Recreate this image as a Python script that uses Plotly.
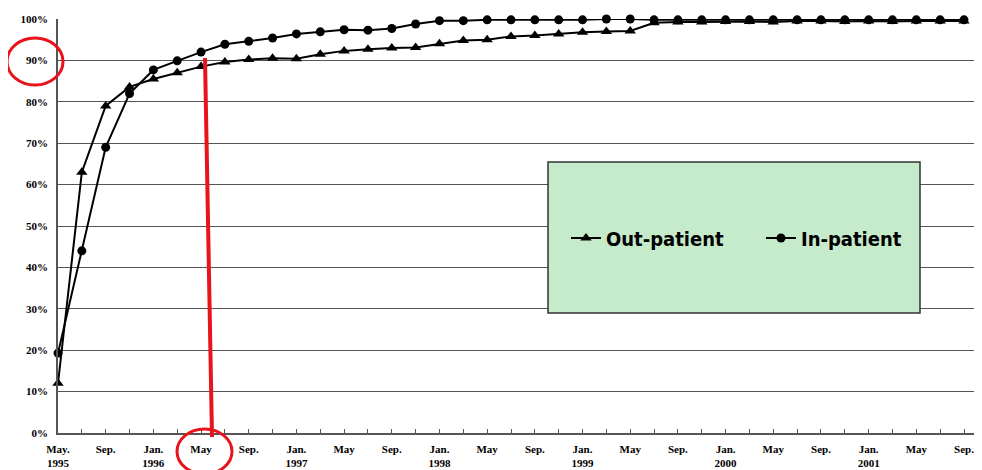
import plotly.graph_objects as go

# Two-month observation points from May 1995 to Sep 2001
n_points = 39

out_patient = [12, 63, 79, 83.6, 85.5, 87, 88.5, 89.6, 90.2, 90.5, 90.4, 91.5, 92.3,
               92.7, 93.0, 93.1, 94.0, 94.8, 95.0, 95.8, 96.0, 96.4, 96.8, 97.0, 97.1,
               99.1, 99.3, 99.3, 99.4, 99.4, 99.3, 99.5, 99.5, 99.4, 99.5, 99.4, 99.5,
               99.5, 99.5]
in_patient = [19.3, 44, 69, 82, 87.7, 89.9, 92, 93.9, 94.6, 95.4, 96.4, 96.9, 97.4,
              97.3, 97.7, 98.8, 99.6, 99.6, 99.8, 99.8, 99.8, 99.8, 99.8, 100, 100,
              99.8, 99.8, 99.8, 99.8, 99.8, 99.8, 99.8, 99.8, 99.8, 99.8, 99.8, 99.8,
              99.8, 99.8]

tick_labels = ["May.<br>1995", "Sep.", "Jan.<br>1996", "May", "Sep.", "Jan.<br>1997",
               "May", "Sep.", "Jan.<br>1998", "May", "Sep.", "Jan.<br>1999", "May",
               "Sep.", "Jan.<br>2000", "May", "Sep.", "Jan.<br>2001", "May", "Sep."]
y_ticks = [0, 10, 20, 30, 40, 50, 60, 70, 80, 90, 100]
y_tick_text = [f"{v}%" for v in y_ticks]

x = list(range(n_points))
tickvals = x
ticktext = [tick_labels[i // 2] if i % 2 == 0 else "" for i in x]

fig = go.Figure()
fig.add_trace(go.Scatter(
    x=x, y=out_patient, name="Out-patient", mode="lines+markers",
    line=dict(color="black", width=2),
    marker=dict(symbol="triangle-up", size=10, color="black"),
    cliponaxis=False,
))
fig.add_trace(go.Scatter(
    x=x, y=in_patient, name="In-patient", mode="lines+markers",
    line=dict(color="black", width=2),
    marker=dict(symbol="circle", size=9, color="black"),
    cliponaxis=False,
))

# page body has an 8px default margin; compensate so plot lands at target pixels
OFF = 8
W, H = 982 - OFF, 470 - OFF
L, R, T = 58 - OFF, 0, 19 - OFF
B = H - T - (433 - 19)
pw = W - L - R
ph = H - T - B
step = (964 - 58) / 38.0


def px(xp):  # window pixel -> paper x
    return (xp - 58) / pw


def py(yp):  # window pixel -> paper y
    return (433 - yp) / ph


tick_font = dict(family="Liberation Serif, Times New Roman, serif", size=11,
                 color="black", weight="bold")

fig.update_layout(
    width=W, height=H,
    margin=dict(l=L, r=R, t=T, b=B, pad=0, autoexpand=False),
    paper_bgcolor="white", plot_bgcolor="white",
    showlegend=True,
    legend=dict(
        orientation="h", x=px(566), xanchor="left", y=py(238), yanchor="middle",
        bgcolor="rgba(0,0,0,0)", itemwidth=30, entrywidth=150,
        font=dict(family="Liberation Sans Narrow, DejaVu Sans Condensed, sans-serif",
                  size=20, color="black", weight="bold"),
    ),
    xaxis=dict(
        range=[0, pw / step], tickvals=tickvals, ticktext=ticktext,
        ticks="inside", ticklen=4, tickcolor="#555", tickwidth=1,
        showgrid=False, zeroline=False,
        showline=True, linecolor="#555", linewidth=1.5,
        tickfont=tick_font, tickangle=0, ticklabelstandoff=5,
        automargin=False,
    ),
    yaxis=dict(
        range=[0, 100], tickvals=y_ticks, ticktext=y_tick_text,
        showgrid=True, gridcolor="#555", gridwidth=1,
        zeroline=False, showline=True, linecolor="#555", linewidth=1.5,
        ticks="", tickfont=tick_font, ticklabelstandoff=6,
        automargin=False,
    ),
    shapes=[
        # legend box
        dict(type="rect", xref="paper", yref="paper",
             x0=px(548), x1=px(920), y0=py(313), y1=py(162),
             fillcolor="#c6ebcb", line=dict(color="#333", width=1.5), layer="above"),
        # red circle around 90%
        dict(type="circle", xref="paper", yref="paper",
             x0=px(7), x1=px(63), y0=py(85), y1=py(38),
             line=dict(color="#e8141c", width=3)),
        # red vertical line
        dict(type="line", xref="paper", yref="paper",
             x0=px(205), y0=py(58), x1=px(212), y1=py(437),
             line=dict(color="#e8141c", width=4)),
        # red circle around May label
        dict(type="circle", xref="paper", yref="paper",
             x0=px(177), x1=px(232), y0=py(474), y1=py(429),
             line=dict(color="#e8141c", width=3)),
    ],
)

fig.write_html("out.html")
